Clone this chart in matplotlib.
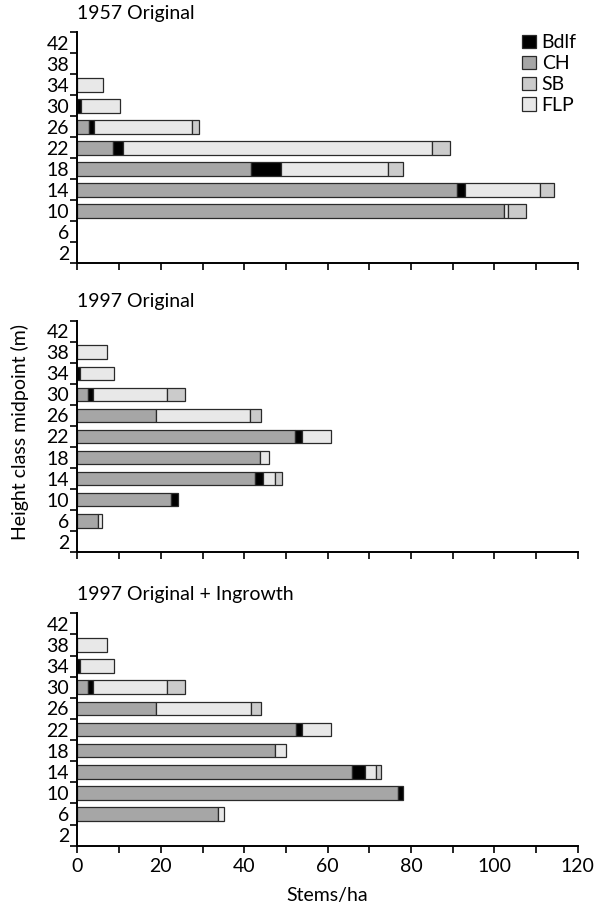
import numpy as np
import matplotlib
matplotlib.use('Agg')
import matplotlib.pyplot as plt
from matplotlib.patches import Patch

plt.rcParams['font.family'] = ['Lato', 'DejaVu Sans']

heights = [2, 6, 10, 14, 18, 22, 26, 30, 34, 38, 42]
species = ['CH', 'Bdlf', 'FLP', 'SB']   # stacking order, left to right
colors = {'Bdlf': '#000000', 'CH': '#a6a6a6', 'SB': '#cbcbcb', 'FLP': '#e8e8e8'}

# stems/ha per height class (2 ... 42)
ch_1957   = [0, 0, 102.3, 91.1, 41.6, 8.6, 2.7, 0, 0, 0, 0]
bdlf_1957 = [0, 0, 0, 1.9, 7.2, 2.3, 1.4, 0.8, 0, 0, 0]
flp_1957  = [0, 0, 0.9, 18.0, 25.6, 74.1, 23.4, 9.3, 6.1, 0, 0]
sb_1957   = [0, 0, 4.4, 3.3, 3.8, 4.4, 1.6, 0, 0, 0, 0]

ch_1997   = [0, 5.0, 22.5, 42.7, 43.7, 52.3, 18.9, 2.6, 0, 0, 0]
bdlf_1997 = [0, 0, 1.6, 1.9, 0, 1.5, 0, 1.2, 0.65, 0, 0]
flp_1997  = [0, 1.0, 0, 2.9, 2.3, 7.0, 22.5, 17.6, 8.05, 7.1, 0]
sb_1997   = [0, 0, 0, 1.5, 0, 0, 2.7, 4.3, 0, 0, 0]

ch_ing    = [0, 33.6, 76.8, 65.8, 47.5, 52.5, 18.9, 2.6, 0, 0, 0]
bdlf_ing  = [0, 0, 1.3, 3.2, 0, 1.3, 0, 1.2, 0.65, 0, 0]
flp_ing   = [0, 1.5, 0, 2.6, 2.6, 7.1, 22.7, 17.8, 8.05, 7.1, 0]
sb_ing    = [0, 0, 0, 1.2, 0, 0, 2.5, 4.3, 0, 0, 0]

panels = [
    ('1957 Original', {'CH': ch_1957, 'Bdlf': bdlf_1957, 'FLP': flp_1957, 'SB': sb_1957}),
    ('1997 Original', {'CH': ch_1997, 'Bdlf': bdlf_1997, 'FLP': flp_1997, 'SB': sb_1997}),
    ('1997 Original + Ingrowth', {'CH': ch_ing, 'Bdlf': bdlf_ing, 'FLP': flp_ing, 'SB': sb_ing}),
]

fs = 14
fig = plt.figure(figsize=(6, 9.07), dpi=100)
boxes = [[0.129, 0.7097, 0.834, 0.2547],
         [0.129, 0.3911, 0.834, 0.2553],
         [0.129, 0.0676, 0.834, 0.2562]]

ypos = np.arange(len(heights))
for i, (title, data) in enumerate(panels):
    ax = fig.add_axes(boxes[i])
    left = np.zeros(len(heights))
    for sp in species:
        vals = np.array(data[sp], dtype=float)
        m = vals > 0
        ax.barh(ypos[m], vals[m], left=left[m], height=0.65, color=colors[sp],
                edgecolor='#2a2a2a', linewidth=0.9)
        left += vals
    ax.set_xlim(0, 120)
    ax.set_ylim(-0.5, len(heights) - 0.5)
    for s in ['top', 'right']:
        ax.spines[s].set_visible(False)
    for s in ['left', 'bottom']:
        ax.spines[s].set_linewidth(1.4)
    ax.set_yticks(ypos)
    ax.set_yticklabels([str(h) for h in heights], fontsize=fs)
    ax.set_yticks(np.arange(-0.5, len(heights)), minor=True)
    ax.tick_params(axis='y', which='major', length=0, pad=6)
    ax.tick_params(axis='y', which='minor', length=5, width=1.2)
    ax.set_xticks(np.arange(0, 121, 10))
    ax.tick_params(axis='x', length=5, width=1.2, pad=4)
    if i == 2:
        ax.set_xticklabels([str(v) if v % 20 == 0 else '' for v in range(0, 121, 10)], fontsize=fs)
    else:
        ax.set_xticklabels([])
    ax.text(0.0, 1.045, title, transform=ax.transAxes, fontsize=fs, ha='left', va='bottom')
    if i == 0:
        handles = [Patch(facecolor=colors[s], edgecolor='#2a2a2a', linewidth=0.9)
                   for s in ['Bdlf', 'CH', 'SB', 'FLP']]
        ax.legend(handles, ['Bdlf', 'CH', 'SB', 'FLP'], loc='upper right',
                  bbox_to_anchor=(1.025, 1.05), frameon=False, fontsize=fs,
                  handlelength=0.7, handleheight=0.7, handletextpad=0.3,
                  labelspacing=0.2, borderpad=0.2)

fig.text(0.033, 0.524, 'Height class midpoint (m)', rotation=90, fontsize=fs,
         ha='center', va='center')
fig.text(0.545, 0.013, 'Stems/ha', fontsize=fs, ha='center', va='center')

fig.savefig('out.png', dpi=100)
